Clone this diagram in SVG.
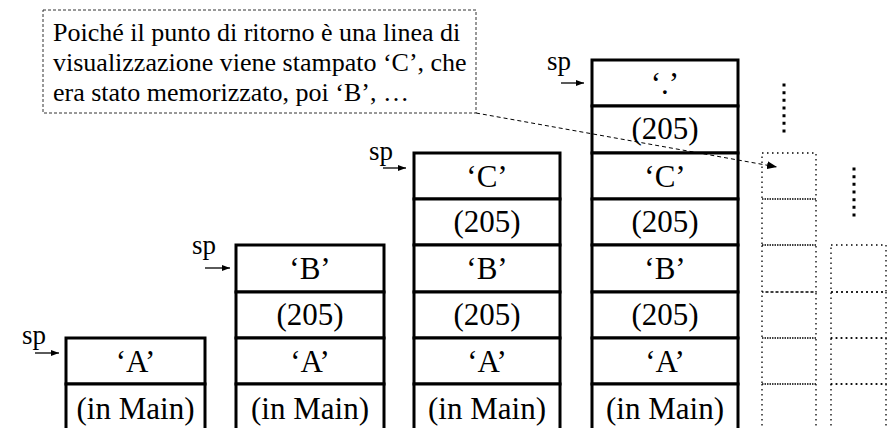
<svg xmlns="http://www.w3.org/2000/svg" width="892" height="428" viewBox="0 0 892 428">
  <defs>
    <marker id="spHead" viewBox="0 0 8 6" refX="8" refY="3" markerWidth="8" markerHeight="6" markerUnits="userSpaceOnUse" orient="auto">
      <path d="M0,0 L8,3 L0,6 Z" fill="#000"/>
    </marker>
    <marker id="noteHead" viewBox="0 0 10 8" refX="10" refY="4" markerWidth="10" markerHeight="8" markerUnits="userSpaceOnUse" orient="auto">
      <path d="M0,0 L10,4 L0,8 Z" fill="#000"/>
    </marker>
  </defs>
  <style>
    .cell { fill: #fff; stroke: #000; stroke-width: 3; }
    .val { font-family: "Liberation Serif", "Times New Roman", serif; font-size: 31px; fill: #000; text-anchor: middle; }
    .sp { font-family: "Liberation Serif", "Times New Roman", serif; font-size: 27px; fill: #000; }
    .spArrow { stroke: #000; stroke-width: 1.3; fill: none; marker-end: url(#spHead); }
    .ghost { fill: none; stroke: #000; stroke-width: 1.3; stroke-dasharray: 1.5 3.5; }
    .ellipsis { stroke: #000; stroke-width: 3; stroke-dasharray: 3 4.67; fill: none; }
    .note { fill: #fff; stroke: #333; stroke-width: 1; stroke-dasharray: 3 2; }
    .noteText { font-family: "Liberation Serif", "Times New Roman", serif; font-size: 26px; fill: #000; }
    .link { stroke: #000; stroke-width: 1; stroke-dasharray: 4 3; fill: none; marker-end: url(#noteHead); }
  </style>
  <rect width="892" height="428" fill="#fff"/>

  <!-- free slots above the stack -->
  <g id="free-slots">
    <rect class="ghost" x="762" y="153" width="54" height="46"/>
    <rect class="ghost" x="762" y="199" width="54" height="46"/>
    <rect class="ghost" x="762" y="245" width="54" height="47"/>
    <rect class="ghost" x="762" y="292" width="54" height="46"/>
    <rect class="ghost" x="762" y="338" width="54" height="46"/>
    <path class="ghost" d="M762,384 H816 M762,384 V430 M816,384 V430"/>
    <rect class="ghost" x="831" y="245" width="55" height="47"/>
    <rect class="ghost" x="831" y="292" width="55" height="46"/>
    <rect class="ghost" x="831" y="338" width="55" height="46"/>
    <path class="ghost" d="M831,384 H886 M831,384 V430 M886,384 V430"/>
    <line class="ellipsis" x1="784" y1="83.5" x2="784" y2="133"/>
    <line class="ellipsis" x1="854" y1="167.5" x2="854" y2="217"/>
  </g>

  <!-- stack after 1 call -->
  <g id="stack1">
    <rect class="cell" x="66" y="338" width="139" height="46"/>
    <rect class="cell" x="66" y="384" width="139" height="50"/>
    <text class="val" x="135.5" y="372">‘A’</text>
    <text class="val" x="135.5" y="419">(in Main)</text>
    <text class="sp" x="22" y="344">sp</text>
  </g>

  <!-- stack after 2 calls -->
  <g id="stack2">
    <rect class="cell" x="236" y="245" width="148" height="47"/>
    <rect class="cell" x="236" y="292" width="148" height="46"/>
    <rect class="cell" x="236" y="338" width="148" height="46"/>
    <rect class="cell" x="236" y="384" width="148" height="50"/>
    <text class="val" x="310" y="279">‘B’</text>
    <text class="val" x="310" y="325">(205)</text>
    <text class="val" x="310" y="372">‘A’</text>
    <text class="val" x="310" y="419">(in Main)</text>
    <text class="sp" x="192" y="254">sp</text>
  </g>

  <!-- stack after 3 calls -->
  <g id="stack3">
    <rect class="cell" x="414" y="153" width="146" height="46"/>
    <rect class="cell" x="414" y="199" width="146" height="46"/>
    <rect class="cell" x="414" y="245" width="146" height="47"/>
    <rect class="cell" x="414" y="292" width="146" height="46"/>
    <rect class="cell" x="414" y="338" width="146" height="46"/>
    <rect class="cell" x="414" y="384" width="146" height="50"/>
    <text class="val" x="487" y="187">‘C’</text>
    <text class="val" x="487" y="232">(205)</text>
    <text class="val" x="487" y="279">‘B’</text>
    <text class="val" x="487" y="325">(205)</text>
    <text class="val" x="487" y="372">‘A’</text>
    <text class="val" x="487" y="419">(in Main)</text>
    <text class="sp" x="369" y="160">sp</text>
  </g>

  <!-- stack after 4 calls -->
  <g id="stack4">
    <rect class="cell" x="592" y="60" width="146" height="46"/>
    <rect class="cell" x="592" y="106" width="146" height="47"/>
    <rect class="cell" x="592" y="153" width="146" height="46"/>
    <rect class="cell" x="592" y="199" width="146" height="46"/>
    <rect class="cell" x="592" y="245" width="146" height="47"/>
    <rect class="cell" x="592" y="292" width="146" height="46"/>
    <rect class="cell" x="592" y="338" width="146" height="46"/>
    <rect class="cell" x="592" y="384" width="146" height="50"/>
    <text class="val" x="665" y="94">‘.’</text>
    <text class="val" x="665" y="139">(205)</text>
    <text class="val" x="665" y="187">‘C’</text>
    <text class="val" x="665" y="232">(205)</text>
    <text class="val" x="665" y="279">‘B’</text>
    <text class="val" x="665" y="325">(205)</text>
    <text class="val" x="665" y="372">‘A’</text>
    <text class="val" x="665" y="419">(in Main)</text>
    <text class="sp" x="547" y="70">sp</text>
  </g>

  <!-- explanatory note -->
  <g id="note">
    <rect class="note" x="43" y="10" width="433" height="103"/>
    <text class="noteText" x="53" y="41">Poiché il punto di ritorno è una linea di</text>
    <text class="noteText" x="53" y="71">visualizzazione viene stampato ‘C’, che</text>
    <text class="noteText" x="53" y="101">era stato memorizzato, poi ‘B’, …</text>
  </g>

  <!-- connectors -->
  <g id="connectors">
    <line class="spArrow" x1="35" y1="353" x2="59" y2="353"/>
    <line class="spArrow" x1="205" y1="268" x2="230" y2="268"/>
    <line class="spArrow" x1="383" y1="168" x2="406" y2="168"/>
    <line class="spArrow" x1="561" y1="83" x2="584" y2="83"/>
    <line class="link" x1="476" y1="113" x2="777" y2="167"/>
  </g>
</svg>
